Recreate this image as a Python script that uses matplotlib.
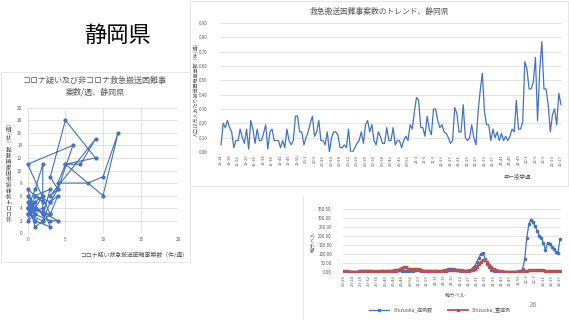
import matplotlib
matplotlib.use('Agg')
import matplotlib.pyplot as plt
from matplotlib.patches import Rectangle
import numpy as np

plt.rcParams['font.family'] = ['Noto Sans CJK JP', 'DejaVu Sans']

# --- data ---
# scatter: corona-suspected vs non-corona difficult transport cases per week (chronological)
covid = [0, 1, 0, 1, 0, 2, 1, 0, 1, 2, 0, 1, 3, 2, 0, 1, 2, 0, 1, 3,
         4, 1, 2, 0, 1, 2, 2, 3, 1, 3, 4, 3, 0, 6, 4, 3, 5, 9, 5, 4,
         8, 10, 12, 10, 5, 7, 9, 3, 4, 3, 2, 3, 0, 1]
noncovid = [4, 3, 2, 5, 3, 2, 1, 5, 4, 3, 6, 2, 1, 4, 3, 6, 5, 7, 3, 2,
            2, 4, 6, 4, 7, 11, 3, 7, 6, 5, 6, 3, 11, 14, 7, 9, 18, 12, 11, 8,
            8, 9, 16, 6, 11, 11, 15, 6, 7, 5, 2, 3, 4, 2]

# trend per 100k population, 2019-w14 .. 2022-w17
trend = [0.05, 0.20, 0.17, 0.22, 0.17, 0.14, 0.03, 0.08, 0.08, 0.16,
         0.10, 0.06, 0.16, 0.02, 0.22, 0.16, 0.06, 0.16, 0.08, 0.08,
         0.13, 0.19, 0.02, 0.14, 0.16, 0.08, 0.08, 0.08, 0.03, 0.08,
         0.03, 0.16, 0.08, 0.05, 0.08, 0.25, 0.25, 0.14, 0.14, 0.05,
         0.10, 0.14, 0.20, 0.25, 0.11, 0.14, 0.22, 0.08, 0.08, 0.05,
         0.14, 0.00,
         0.10, 0.14, 0.14, 0.12, 0.03, 0.03, 0.05, 0.03, 0.16, 0.00, 0.00,
         0.03, 0.06, 0.08, 0.14, 0.06, 0.19, 0.22, 0.14, 0.19, 0.08,
         0.05, 0.14, 0.11, 0.06, 0.06, 0.17, 0.08, 0.08, 0.17, 0.05,
         0.08, 0.08, 0.03, 0.08, 0.11, 0.08, 0.19, 0.16, 0.28, 0.38,
         0.36, 0.17, 0.17, 0.11, 0.25, 0.16, 0.12, 0.30, 0.30, 0.22,
         0.17, 0.19,
         0.14, 0.13, 0.10, 0.06, 0.08, 0.31, 0.27, 0.14, 0.14,
         0.33, 0.10, 0.08, 0.10, 0.19, 0.10, 0.05, 0.28, 0.43, 0.55,
         0.28, 0.19, 0.19, 0.08, 0.16, 0.10, 0.14, 0.08, 0.13, 0.08,
         0.11, 0.08, 0.11, 0.16, 0.14, 0.36, 0.16, 0.16, 0.21, 0.63,
         0.58, 0.44, 0.44, 0.49, 0.66, 0.22, 0.57, 0.77, 0.44, 0.44,
         0.33, 0.14, 0.26, 0.30, 0.19, 0.41, 0.33]

# Shizuoka cases / severe cases, 2020-w20 .. 2022-w19
cases = [2, 2, 1, 1, 1, 1, 2, 3, 4, 5, 4, 3, 3, 3, 2, 2, 2, 2, 3, 3,
         4, 5, 6, 8, 10, 11,
         12, 10, 6, 4, 3, 4, 6, 8, 10, 12, 10, 8, 6, 5, 4,
         4, 4, 5, 5, 6, 7, 8, 10, 13, 16, 18, 18, 15, 12, 9, 7, 6, 6, 6, 8, 12,
         22, 35, 55, 80, 102, 105, 72, 45, 25, 12, 6, 4, 3, 2,
         2, 2, 1, 1, 1, 1, 2, 2, 3, 5,
         15, 70, 186, 265, 290, 275, 252, 228, 200, 190, 162, 122, 160, 155,
         140, 128, 110, 103, 181]
severe = [6, 4, 3, 2, 2, 2, 2, 2, 3, 3, 4, 5, 5, 6, 6, 5, 4, 3, 3, 3,
          3, 3, 3, 4, 6, 8, 12, 18, 24, 28, 25, 18, 15, 14, 15, 16, 17, 12, 8, 6,
          5, 4, 4, 4, 4, 5, 5, 6, 7, 8, 10, 12, 13, 12, 11, 10, 9, 9, 8, 8, 9, 10,
          12, 18, 30, 45, 58, 65, 64, 55, 40, 28, 18, 12, 8, 5,
          3, 2, 2, 1, 1, 1, 1, 1, 2, 3,
          4, 5, 7, 9, 10, 10, 11, 10, 10, 11, 10, 8, 6, 5, 5, 4, 4, 3, 3]


def week_labels(spans, pad21=False):
    out = []
    for yy, w0, w1 in spans:
        for w in range(w0, w1 + 1):
            if pad21 and yy == 21:
                out.append(f"{yy}-{w:02d}")
            else:
                out.append(f"{yy}-{w}")
    return out


trend_weeks = week_labels([(19, 14, 52), (20, 1, 53), (21, 1, 52), (22, 1, 17)])
case_weeks = week_labels([(20, 20, 53), (21, 1, 52), (22, 1, 19)], pad21=True)

W, H = 569, 320
BLUE = '#4472C4'
RED = '#C0504D'
GRID = '#D9D9D9'
TXT = '#595959'


def rect(x0, y0, x1, y1):
    return [x0 / W, 1 - y1 / H, (x1 - x0) / W, (y1 - y0) / H]


def fx(x):
    return x / W


def fy(y):
    return 1 - y / H


fig = plt.figure(figsize=(W / 100, H / 100), dpi=100)
fig.patch.set_facecolor('white')

# panel frames
for x0, y0, x1, y1 in [(1, 72, 190, 262), (190, 1, 568, 186)]:
    fig.patches.append(Rectangle((fx(x0), fy(y1)), (x1 - x0) / W, (y1 - y0) / H,
                                 transform=fig.transFigure, fill=False,
                                 edgecolor='#E3E3E3', lw=0.6))
fig.add_artist(plt.Line2D([fx(303), fx(303)], [fy(196), fy(320)],
                          transform=fig.transFigure, color='#E3E3E3', lw=0.6))

fig.text(fx(117), fy(35), '静岡県', fontsize=16, ha='center', va='center', color='black')


def style(ax, fs):
    for s in ax.spines.values():
        s.set_visible(False)
    ax.tick_params(length=0, labelsize=fs, colors=TXT)
    ax.set_axisbelow(True)


# --- scatter ---
ax1 = fig.add_axes(rect(27.7, 107.7, 178.4, 233.3))
style(ax1, 3.3)
ax1.plot(covid, noncovid, color=BLUE, lw=0.8, marker='o', ms=2.0, clip_on=False)
ax1.set_xlim(0, 20)
ax1.set_ylim(0, 20)
ax1.set_xticks(range(0, 21, 5))
ax1.set_yticks(range(0, 21, 2))
ax1.grid(True, color=GRID, lw=0.5)
ax1.tick_params(axis='y', pad=4)
ax1.tick_params(axis='x', pad=3)
fig.text(fx(95), fy(86), 'コロナ疑い及び非コロナ救急搬送困難事\n案数/週、静岡県', fontsize=5.8,
         ha='center', va='center', color=TXT, linespacing=1.3)
fig.text(fx(188), fy(255), 'コロナ疑い救急搬送困難事案数（件/週）', fontsize=4.2,
         ha='right', va='center', color=TXT)
fig.text(fx(10), fy(170), '非コロナ救急搬送困難事案数（件/週）', fontsize=4.2,
         ha='center', va='center', rotation=90, color=TXT)

# --- trend line ---
ax2 = fig.add_axes(rect(220, 23, 562, 152))
style(ax2, 3.2)
ax2.plot(range(len(trend)), trend, color=BLUE, lw=0.9)
ax2.set_xlim(-0.5, len(trend) - 0.5)
ax2.set_ylim(0, 0.9)
yt = np.arange(0, 0.91, 0.1)
ax2.set_yticks(yt)
ax2.set_yticklabels([f"{v:.2f}" for v in yt])
ax2.set_xticks(range(0, len(trend), 4))
ax2.set_xticklabels(trend_weeks[::4], rotation=90, fontsize=3.0)
ax2.grid(True, axis='y', color=GRID, lw=0.5)
ax2.tick_params(axis='y', pad=9)
ax2.tick_params(axis='x', pad=2)
fig.text(fx(380), fy(12), '救急搬送困難事案数のトレンド、静岡県', fontsize=5.6,
         ha='center', va='center', color=TXT)
fig.text(fx(196), fy(88), '人口10万人あたり搬送困難事案数（件/週）', fontsize=3.6,
         ha='center', va='center', rotation=90, color=TXT)
fig.text(fx(517), fy(177), '年ー疫学週', fontsize=4.0, ha='center', va='center', color=TXT)

# --- cases ---
ax3 = fig.add_axes(rect(343, 208.7, 561, 272))
style(ax3, 3.2)
ax3.plot(range(len(cases)), cases, color=BLUE, lw=0.9, marker='o', ms=1.6,
         label='Shizuoka_症例数')
ax3.plot(range(len(severe)), severe, color=RED, lw=1.3, marker='s', ms=1.6,
         label='Shizuoka_重症例')
ax3.set_xlim(-0.5, len(cases) - 0.5)
ax3.set_ylim(0, 350)
yt3 = np.arange(0, 351, 50)
ax3.set_yticks(yt3)
ax3.set_yticklabels([f"{v:.2f}" for v in yt3])
ax3.set_xticks(range(0, len(cases), 4))
ax3.set_xticklabels(case_weeks[::4], rotation=90, fontsize=3.0)
ax3.grid(True, axis='y', color=GRID, lw=0.5)
ax3.tick_params(axis='y', pad=8)
ax3.tick_params(axis='x', pad=2)
fig.text(fx(313), fy(242), '軸ラベル', fontsize=3.8, ha='center', va='center',
         rotation=90, color=TXT)
fig.text(fx(455), fy(295), '軸ラベル', fontsize=3.8, ha='center', va='center', color=TXT)
fig.legend(loc='center', bbox_to_anchor=(fx(440), fy(310)), ncol=2, frameon=False,
           fontsize=3.6, labelcolor=TXT, handlelength=4, columnspacing=3)
fig.text(fx(533), fy(305), '26', fontsize=5.5, ha='center', va='center', color='#8C8C8C')

fig.savefig('out.png', dpi=100, facecolor='white')
